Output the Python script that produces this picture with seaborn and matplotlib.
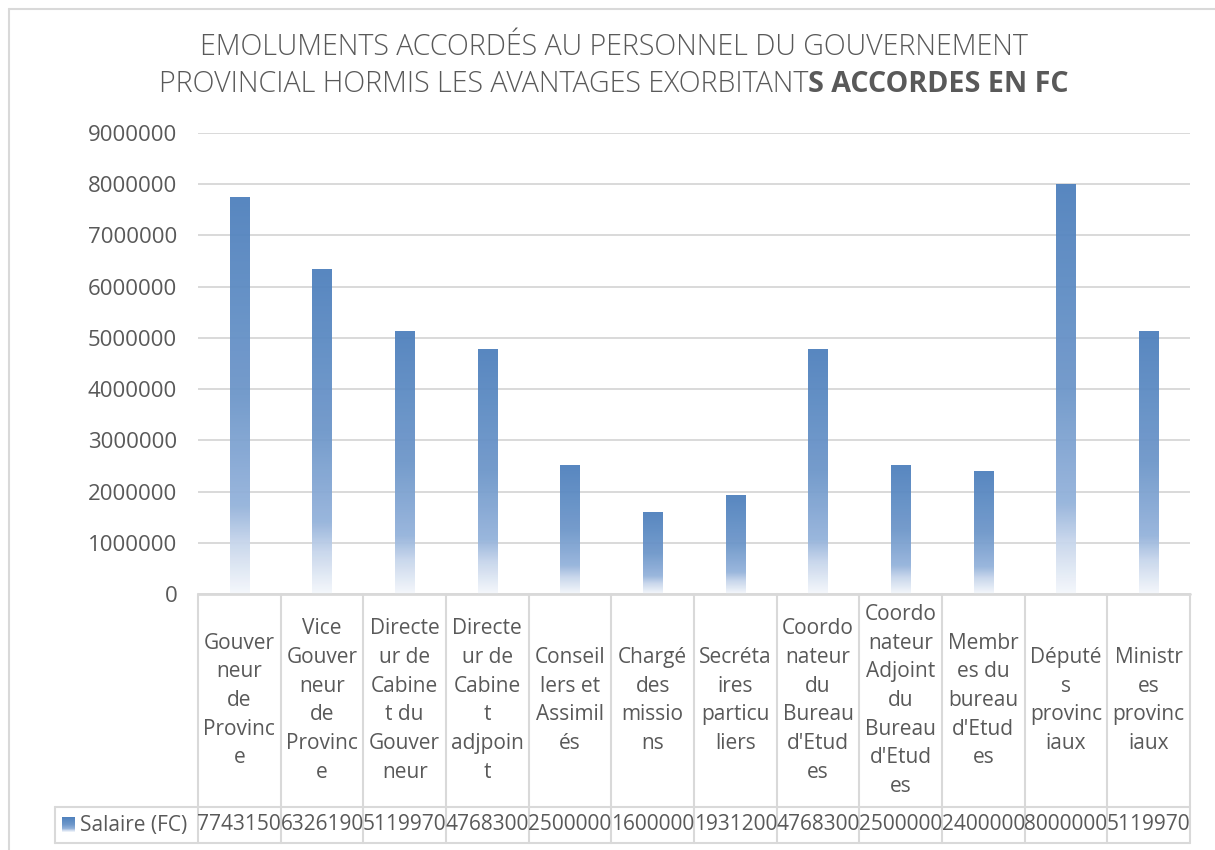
import numpy as np
import pandas as pd
import seaborn as sns
import matplotlib.pyplot as plt
from matplotlib.colors import LinearSegmentedColormap
from matplotlib.lines import Line2D
import matplotlib.transforms as mtransforms

sns.set_style("white")
plt.rcParams['font.family'] = ['Open Sans', 'DejaVu Sans']

# data
postes = [
    "Gouver\nneur\nde\nProvinc\ne",
    "Vice\nGouver\nneur\nde\nProvinc\ne",
    "Directe\nur de\nCabine\nt du\nGouver\nneur",
    "Directe\nur de\nCabine\nt\nadjpoin\nt",
    "Conseil\nlers et\nAssimil\nés",
    "Chargé\ndes\nmissio\nns",
    "Secréta\nires\nparticu\nliers",
    "Coordo\nnateur\ndu\nBureau\nd'Etud\nes",
    "Coordo\nnateur\nAdjoint\ndu\nBureau\nd'Etud\nes",
    "Membr\nes du\nbureau\nd'Etud\nes",
    "Député\ns\nprovinc\niaux",
    "Ministr\nes\nprovinc\niaux",
]
salaires = [7743150, 6326190, 5119970, 4768300, 2500000, 1600000,
            1931200, 4768300, 2500000, 2400000, 8000000, 5119970]
serie = "Salaire (FC)"
yticks = [0, 1000000, 2000000, 3000000, 4000000, 5000000,
          6000000, 7000000, 8000000, 9000000]
titre_1 = "EMOLUMENTS ACCORDÉS AU PERSONNEL DU GOUVERNEMENT"
titre_2a = "PROVINCIAL HORMIS LES AVANTAGES EXORBITANT"
titre_2b = "S ACCORDES EN FC"

df = pd.DataFrame({"poste": postes, "salaire": salaires})

txt = "#595959"
grid = "#D9D9D9"
grad = LinearSegmentedColormap.from_list(
    "bar", [(0, "#4F81BD"), (0.5, "#6E97CA"), (0.78, "#95B3DB"),
            (0.87, "#C6D5EB"), (1.0, "#F5F8FC")])

fig = plt.figure(figsize=(12.15, 8.5), dpi=100)
W, H = 1215, 850
ax = fig.add_axes([198 / W, 1 - 594 / H, (1190 - 198) / W, (594 - 133) / H])

sns.barplot(data=df, x="poste", y="salaire", width=0.23, color="#4F81BD",
            ax=ax, zorder=2)

ax.set_ylim(0, yticks[-1])
ax.set_xlim(-0.5, len(postes) - 0.5)
ax.set_yticks(yticks)
ax.set_yticklabels([str(v) for v in yticks], color=txt, fontsize=16)
ax.tick_params(axis="y", length=0, pad=15)
ax.set_xticks([])
ax.set_xlabel("")
ax.set_ylabel("")
ax.yaxis.grid(True, color=grid, lw=1.4, zorder=0)
ax.set_axisbelow(True)
for s in ax.spines.values():
    s.set_visible(False)

# gradient fill in place of the flat bars
g = np.linspace(0, 1, 256).reshape(-1, 1)
for p in ax.patches:
    x0, y0 = p.get_x(), p.get_y()
    w, h = p.get_width(), p.get_height()
    p.set_visible(False)
    ax.imshow(g, cmap=grad, aspect="auto", origin="upper",
              extent=[x0, x0 + w, y0, y0 + h], zorder=1, alpha=0.95)
ax.set_ylim(0, yticks[-1])
ax.set_xlim(-0.5, len(postes) - 0.5)

# data table under the chart
row1 = -(807 - 594) / (594 - 133)
row2 = -(843 - 594) / (594 - 133)
left_leg = (55 - 198) / (1190 - 198)
bt = mtransforms.blended_transform_factory(ax.transData, ax.transAxes)
n = len(postes)
for i in range(n + 1):
    ax.add_line(Line2D([i - 0.5, i - 0.5], [0, row2], transform=bt,
                       color=grid, lw=1.5, clip_on=False))
ax.add_line(Line2D([-0.5, n - 0.5], [0, 0], transform=bt, color=grid,
                   lw=2, clip_on=False))
for yy in (row1, row2):
    ax.add_line(Line2D([left_leg, 1], [yy, yy], transform=ax.transAxes,
                       color=grid, lw=1.5, clip_on=False))
ax.add_line(Line2D([left_leg, left_leg], [row1, row2], transform=ax.transAxes,
                   color=grid, lw=1.5, clip_on=False))

for i, (lab, val) in enumerate(zip(postes, salaires)):
    ax.text(i, row1 / 2, lab, transform=bt, ha="center", va="center",
            color=txt, fontsize=15, linespacing=1.48, clip_on=False)
    ax.text(i, (row1 + row2) / 2, str(val), transform=bt, ha="center",
            va="center", color=txt, fontsize=15, clip_on=False)

# legend key
kx0 = (62 - 198) / (1190 - 198)
kx1 = (75 - 198) / (1190 - 198)
ky0 = -(832 - 594) / (594 - 133)
ky1 = -(818 - 594) / (594 - 133)
ax.imshow(g, cmap=grad, aspect="auto", origin="upper",
          extent=[kx0, kx1, ky0, ky1], transform=ax.transAxes, clip_on=False)
ax.text((80 - 198) / (1190 - 198), (row1 + row2) / 2, serie,
        transform=ax.transAxes, ha="left", va="center", color=txt,
        fontsize=15, clip_on=False)
ax.set_ylim(0, yticks[-1])
ax.set_xlim(-0.5, len(postes) - 0.5)

# chart frame (left and top edges visible)
fig.add_artist(Line2D([9 / W, 9 / W], [0, 1 - 9 / H], color=grid, lw=1.5))
fig.add_artist(Line2D([9 / W, 1], [1 - 9 / H, 1 - 9 / H], color=grid, lw=1.5))

# title, second line mixes light and bold
cx = 614 / W
fig.text(cx, 1 - 47 / H, titre_1, ha="center", va="center", color=txt,
         fontsize=20.6, fontweight="light")
t_a = fig.text(0, 1 - 84 / H, titre_2a, ha="left", va="center", color=txt,
               fontsize=20.6, fontweight="light")
t_b = fig.text(0, 1 - 84 / H, titre_2b, ha="left", va="center", color=txt,
               fontsize=20.6, fontweight="bold")
fig.canvas.draw()
r = fig.canvas.get_renderer()
wa = t_a.get_window_extent(r).width
wb = t_b.get_window_extent(r).width
start = cx * W - (wa + wb) / 2
t_a.set_x(start / W)
t_b.set_x((start + wa) / W)

fig.savefig("out.png", dpi=100)
